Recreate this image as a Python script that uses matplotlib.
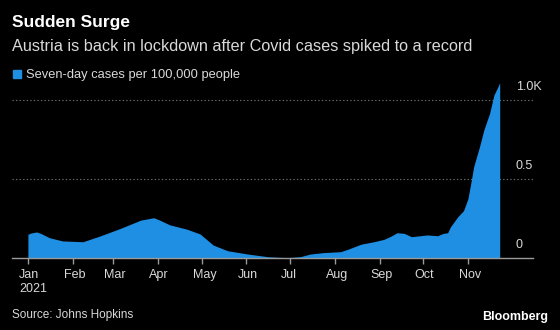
import matplotlib
matplotlib.use("Agg")
import matplotlib.pyplot as plt
import matplotlib.transforms as mtransforms
import pandas as pd

# Seven-day cases per 100,000 people (Austria, 2021)
dates = ["2021-01-01", "2021-01-03", "2021-01-07", "2021-01-10", "2021-01-16",
         "2021-01-25", "2021-02-08", "2021-02-20", "2021-03-06", "2021-03-20",
         "2021-03-29", "2021-04-02", "2021-04-09", "2021-04-21", "2021-04-30",
         "2021-05-09", "2021-05-19", "2021-06-02", "2021-06-16", "2021-06-29",
         "2021-07-08", "2021-07-15", "2021-07-24", "2021-08-05", "2021-08-10",
         "2021-08-19", "2021-08-28", "2021-09-04", "2021-09-09", "2021-09-13",
         "2021-09-18", "2021-09-23", "2021-09-27", "2021-10-04", "2021-10-11",
         "2021-10-15", "2021-10-18", "2021-10-20", "2021-10-25", "2021-10-29",
         "2021-11-01", "2021-11-03", "2021-11-05", "2021-11-09", "2021-11-12",
         "2021-11-16", "2021-11-19", "2021-11-22", "2021-11-23"]
cases = [150, 158, 165, 155, 128,
         108, 103, 140, 188, 240,
         255, 240, 210, 182, 152,
         82, 46, 25, 8, 2,
         8, 25, 34, 40, 55,
         87, 103, 118, 139, 160,
         156, 135, 139, 146, 141,
         156, 160, 198, 261, 300,
         375, 473, 578, 704, 810,
         916, 1032, 1089, 1110]

y_ticks = [0, 500, 1000]
y_tick_labels = ["0", "0.5", "1.0K"]
month_labels = ["Jan\n2021", "Feb", "Mar", "Apr", "May", "Jun",
                "Jul", "Aug", "Sep", "Oct", "Nov"]

title = "Sudden Surge"
subtitle = "Austria is back in lockdown after Covid cases spiked to a record"
legend_label = "Seven-day cases per 100,000 people"
source = "Source: Johns Hopkins"

bg = "#000000"
fill_color = "#1e8fe3"
text_color = "#d9d9d9"
axis_color = "#9a9a9a"

plt.rcParams["font.family"] = ["Liberation Sans", "DejaVu Sans"]

x = pd.to_datetime(dates)

W, H = 560, 330
fig = plt.figure(figsize=(W / 100, H / 100), dpi=100, facecolor=bg)
ax = fig.add_axes([12 / W, (H - 258) / H, (533 - 12) / W, (258 - 80) / H])
ax.set_facecolor(bg)

ax.fill_between(x, 0, cases, color=fill_color, linewidth=0)

ax.set_xlim(pd.Timestamp("2020-12-21"), pd.Timestamp("2021-12-16"))
ax.set_ylim(0, 1127)

# dotted gridlines + labels sitting above each line on the right
label_tf = mtransforms.blended_transform_factory(ax.transAxes, ax.transData)
for v, lab in zip(y_ticks, y_tick_labels):
    if v > 0:
        ax.axhline(v, color="#6e6e6e", linestyle=(0, (1.2, 2)), linewidth=0.8, zorder=0)
    ax.text(0.967, v + 45, lab, transform=label_tf, ha="left", va="bottom",
            color=text_color, fontsize=9)

for side in ["top", "right", "left"]:
    ax.spines[side].set_visible(False)
ax.spines["bottom"].set_color(axis_color)
ax.spines["bottom"].set_linewidth(1.0)
ax.set_yticks([])

month_starts = pd.date_range("2021-01-01", "2021-11-01", freq="MS")
ax.set_xticks(month_starts)
ax.set_xticklabels(month_labels, ha="left")
ax.tick_params(axis="x", colors=axis_color, length=4, width=1.0, labelcolor=text_color,
               labelsize=9, pad=4)
# shift labels so they centre on the tick
offset = mtransforms.ScaledTranslation(-9 / 100, 0, fig.dpi_scale_trans)
for lab in ax.get_xticklabels():
    lab.set_transform(lab.get_transform() + offset)

fig.text(12 / W, 1 - 27 / H, title, color="white", fontsize=12.5, fontweight="bold",
         ha="left", va="baseline")
fig.text(12 / W, 1 - 51 / H, subtitle, color=text_color, fontsize=11.7,
         ha="left", va="baseline")
fig.patches.append(plt.Rectangle((13 / W, 1 - 78 / H), 8 / W, 8 / H, color=fill_color,
                                 transform=fig.transFigure, figure=fig))
fig.text(26 / W, 1 - 78 / H, legend_label, color=text_color, fontsize=9.3,
         ha="left", va="baseline")
fig.text(12 / W, 1 - 318 / H, source, color=text_color, fontsize=8.5,
         ha="left", va="baseline")
fig.text(548 / W, 1 - 320 / H, "Bloomberg", color="white", fontsize=9,
         fontweight="bold", ha="right", va="baseline")

fig.savefig("out.png", dpi=100, facecolor=bg)
